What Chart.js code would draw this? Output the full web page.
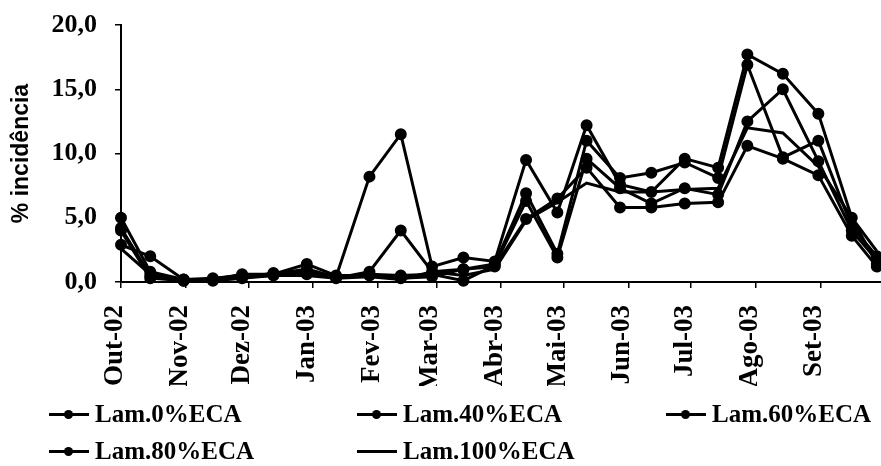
<!DOCTYPE html>
<html><head><meta charset="utf-8">
<script src="https://cdn.jsdelivr.net/npm/chart.js@4.4.1/dist/chart.umd.min.js"></script>
<style>
html,body{margin:0;padding:0;background:#fff;}
#wrap{position:relative;width:881px;height:466px;overflow:hidden;}
canvas{position:absolute;left:0;top:0;}
.leg{position:absolute;font-family:"Liberation Serif",serif;font-size:25px;font-weight:bold;color:#000;white-space:nowrap;display:flex;align-items:center;line-height:26px;height:26px;}
.sw{position:relative;width:40px;height:3px;background:#000;margin-right:6px;}
.sw i{position:absolute;left:15px;top:-3px;width:9px;height:9px;border-radius:50%;background:#000;}
</style></head><body>
<div id="wrap"><canvas id="c" width="881" height="466"></canvas></div>
<script>
// Month tick labels and their day offsets from 1 Oct 2002
const monthLabels = ['Out-02','Nov-02','Dez-02','Jan-03','Fev-03','Mar-03','Abr-03','Mai-03','Jun-03','Jul-03','Ago-03','Set-03'];
const monthStartDays = [0,31,61,92,123,151,182,212,243,273,304,335];
// Sampling dates (days from 1 Oct 2002)
const sampleDays = [0,14,30,44,58,73,89,103,119,134,149,164,179,194,209,223,239,254,270,286,300,317,334,350,362];
const seriesNames = ['Lam.0%ECA','Lam.40%ECA','Lam.60%ECA','Lam.80%ECA','Lam.100%ECA'];
const lam0   = [5.0,0.8,0.2,0.3,0.5,0.6,1.0,0.4,8.2,11.5,1.2,1.9,1.6,9.5,5.4,12.2,7.6,7.0,9.6,8.9,17.7,16.2,13.1,5.0,1.4];
const lam40  = [4.2,0.5,0.1,0.2,0.4,0.5,0.8,0.3,0.8,4.0,0.8,1.0,1.4,6.9,2.2,11.0,8.1,8.5,9.3,8.1,16.9,9.7,11.0,4.3,2.0];
const lam60  = [4.0,0.3,0.1,0.1,0.3,0.7,0.6,0.4,0.6,0.5,0.6,0.1,1.3,6.3,1.9,9.6,7.3,6.1,7.3,6.8,12.5,15.0,9.4,4.0,1.7];
const lam80  = [2.9,2.0,0.2,0.2,0.6,0.6,1.4,0.5,0.5,0.3,0.4,1.0,1.2,4.9,6.5,8.9,5.8,5.8,6.1,6.2,10.6,9.6,8.3,3.6,1.2];
const lam100 = [2.6,0.6,0.1,0.2,0.3,0.5,0.5,0.3,0.4,0.2,0.8,0.5,1.0,4.8,6.2,7.7,7.0,7.0,7.2,7.3,12.0,11.6,9.0,5.0,2.4];
const allSeries = [lam0, lam40, lam60, lam80, lam100];
const hasMarker = [true,true,true,true,false];

const datasets = allSeries.map((vals, k) => ({
  label: seriesNames[k],
  data: vals.map((v, i) => ({x: sampleDays[i], y: v})),
  borderColor: '#000',
  backgroundColor: '#000',
  borderWidth: 3,
  pointRadius: hasMarker[k] ? 4.5 : 0,
  pointHoverRadius: 0,
  pointBackgroundColor: '#000',
  pointBorderColor: '#000',
  tension: 0,
  fill: false,
  clip: false
}));

const serif = '"Liberation Serif", "Times New Roman", serif';
const chart = new Chart(document.getElementById('c'), {
  type: 'line',
  data: {datasets},
  options: {
    responsive: false,
    devicePixelRatio: 1,
    animation: false,
    layout: {autoPadding: false, padding: {top: 25, right: 0, bottom: 80, left: 0}},
    plugins: {legend: {display: false}, tooltip: {enabled: false}},
    scales: {
      x: {
        type: 'linear', min: 0, max: 364,
        afterBuildTicks: s => { s.ticks = monthStartDays.map(v => ({value: v})); },
        afterFit: s => { s.height = 104; s.paddingLeft = 0; s.paddingRight = 0; },
        grid: {drawOnChartArea: false, drawTicks: true, tickLength: 6, color: '#000', lineWidth: 1.5},
        border: {color: '#000', width: 2},
        ticks: {
          autoSkip: false, minRotation: 90, maxRotation: 90, padding: 17, labelOffset: -6, color: '#000',
          font: {family: serif, weight: 'bold', size: 27},
          callback: v => { const i = monthStartDays.indexOf(v); return i >= 0 ? monthLabels[i] : ''; }
        }
      },
      y: {
        min: 0, max: 20,
        afterFit: s => { s.width = 121; s.paddingTop = 0; s.paddingBottom = 0; },
        grid: {drawOnChartArea: false, drawTicks: true, tickLength: 6, color: '#000', lineWidth: 1.5},
        border: {color: '#000', width: 2},
        ticks: {
          stepSize: 5, padding: 18, color: '#000',
          font: {family: serif, weight: 'bold', size: 26},
          callback: v => v.toFixed(1).replace('.', ',')
        },
        title: {
          display: true, text: '% incidência', color: '#000', padding: {top: 8, bottom: 0},
          font: {family: '"Liberation Sans", Arial, sans-serif', weight: 'bold', size: 23}
        }
      }
    }
  }
});

// HTML legend built from the chart's datasets
const legPos = [[49,401],[357,401],[666,401],[49,438],[357,438]];
const wrap = document.getElementById('wrap');
chart.data.datasets.forEach((ds, k) => {
  const d = document.createElement('div');
  d.className = 'leg';
  d.style.left = legPos[k][0] + 'px';
  d.style.top = legPos[k][1] + 'px';
  const sw = document.createElement('span');
  sw.className = 'sw';
  if (hasMarker[k]) sw.appendChild(document.createElement('i'));
  d.appendChild(sw);
  d.appendChild(document.createTextNode(ds.label));
  wrap.appendChild(d);
});
</script>
</body></html>
